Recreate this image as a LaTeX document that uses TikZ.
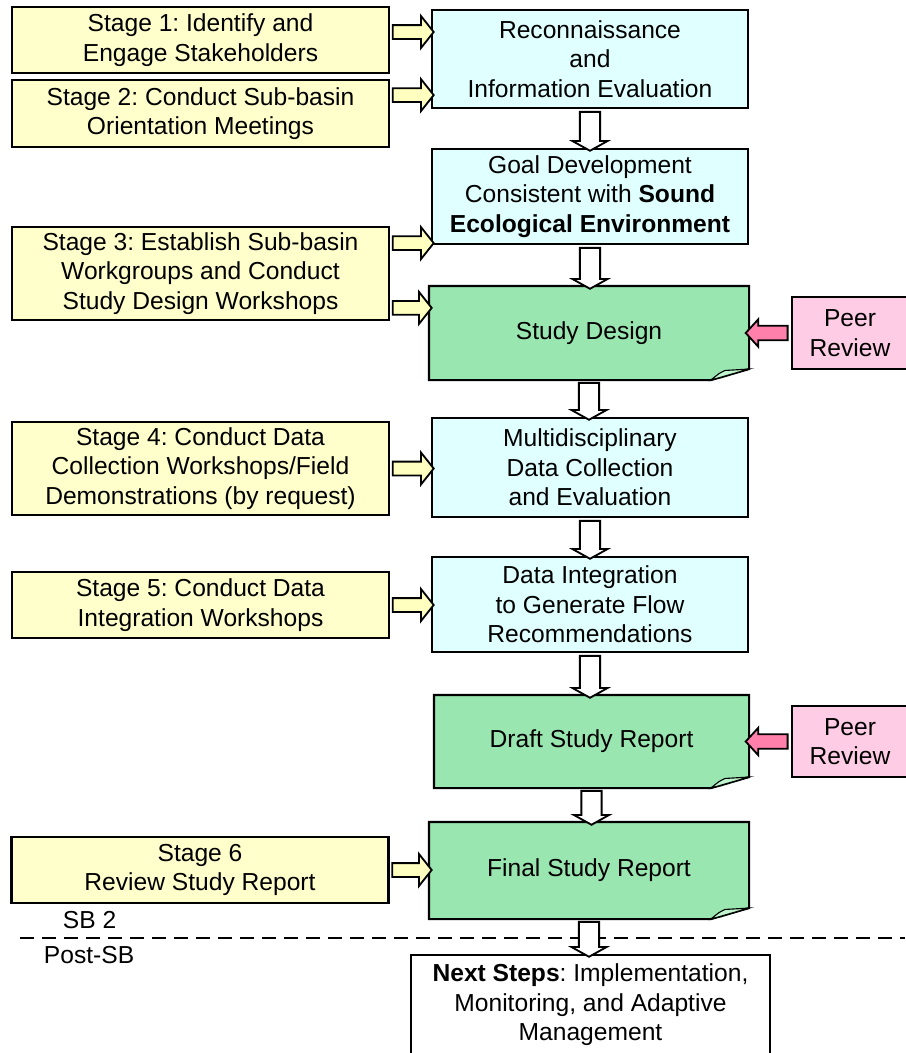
\documentclass[tikz,border=0pt]{standalone}
\usepackage{fontspec}
\setmainfont{Liberation Sans}
\frenchspacing
\usetikzlibrary{shapes.arrows,calc}
\definecolor{stagefill}{RGB}{255,255,204}
\definecolor{feedfill}{RGB}{255,255,192}
\definecolor{stepfill}{RGB}{224,255,255}
\definecolor{docfill}{RGB}{153,230,176}
\definecolor{foldfill}{RGB}{190,245,205}
\definecolor{peerfill}{RGB}{255,204,230}
\definecolor{peerpush}{RGB}{255,128,170}
\tikzset{
  box/.style={draw,line width=1.5pt,align=center,inner sep=0pt,font=\fontsize{17.5}{21}\selectfont},
  stagebox/.style={box,fill=stagefill,minimum width=9.425cm},
  stepbox/.style={box,fill=stepfill,minimum width=7.9cm},
  docbox/.style={box,draw=none,fill=docfill,minimum width=7.95cm},
  peerbox/.style={box,fill=peerfill,minimum width=2.9cm,minimum height=1.8cm},
  blockarr/.style={single arrow,draw,line width=1.3pt,inner xsep=0pt,anchor=center},
  hollow/.style={blockarr,fill=white,inner ysep=0.23cm,single arrow head extend=0.19cm,single arrow tip angle=122},
  feed/.style={blockarr,fill=feedfill,inner ysep=0.15cm,single arrow head extend=0.225cm,single arrow tip angle=103},
  review/.style={blockarr,fill=peerpush,inner ysep=0.16cm,single arrow head extend=0.16cm,single arrow tip angle=95},
}
% block arrow: style, from, to
\newcommand{\blockarrow}[3]{%
  \path let \p1=(#2), \p2=(#3), \n1={veclen(\x2-\x1,\y2-\y1)}, \n2={atan2(\y2-\y1,\x2-\x1)} in
    node[#1,minimum height=\n1,rotate=\n2] at ($(#2)!0.5!(#3)$) {};}
\begin{document}
\begin{tikzpicture}
\useasboundingbox (0,0) rectangle (22.625,-26.325);
% stages
\node[stagebox,minimum height=1.65cm](st1) at (5.0125,-1.0) {Stage 1: Identify and\\Engage Stakeholders};
\node[stagebox,minimum height=1.675cm](st2) at (5.0125,-2.8375) {Stage 2: Conduct Sub-basin\\Orientation Meetings};
\node[stagebox,minimum height=2.325cm](st3) at (5.0125,-6.8375) {Stage 3: Establish Sub-basin\\Workgroups and Conduct\\Study Design Workshops};
\node[stagebox,minimum height=2.325cm](st4) at (5.0125,-11.7125) {Stage 4: Conduct Data\\Collection Workshops/Field\\Demonstrations (by request)};
\node[stagebox,minimum height=1.65cm](st5) at (5.0125,-15.125) {Stage 5: Conduct Data\\Integration Workshops};
\node[stagebox,minimum height=1.65cm](st6) at (5.0,-21.75) {Stage 6\\Review Study Report};
% main column
\node[stepbox,minimum height=2.45cm](recon) at (14.75,-1.475) {Reconnaissance\\and\\Information Evaluation};
\node[stepbox,minimum height=2.375cm](goal) at (14.75,-4.9125) {Goal Development\\Consistent with \textbf{Sound}\\\textbf{Ecological Environment}};
\node[docbox,minimum height=2.3cm](design) at (14.725,-8.325) {Study Design};
\node[stepbox,minimum height=2.475cm](multi) at (14.75,-11.6875) {Multidisciplinary\\Data Collection\\and Evaluation};
\node[stepbox,minimum height=2.375cm](integ) at (14.75,-15.1125) {Data Integration\\to Generate Flow\\Recommendations};
\node[docbox,minimum height=2.275cm,minimum width=7.825cm](draft) at (14.7875,-18.5375) {Draft Study Report};
\node[docbox,minimum height=2.375cm](final) at (14.725,-21.7625) {Final Study Report};
\node[box,fill=white,minimum width=8.975cm,minimum height=2.5cm](next) at (14.7625,-25.125) {\textbf{Next Steps}: Implementation,\\Monitoring, and Adaptive\\Management};
\node[peerbox](peer1) at (21.25,-8.325) {Peer\\Review};
\node[peerbox,minimum height=1.775cm](peer2) at (21.25,-18.5375) {Peer\\Review};
% folded corners
\foreach \d in {design,draft,final}{
  \fill[white] ([yshift=0.275cm,xshift=0.05cm]\d.south east) -- ([xshift=0.05cm,yshift=-0.05cm]\d.south east) -- ([xshift=-0.95cm,yshift=-0.05cm]\d.south east) -- cycle;
  \draw[line width=1.5pt] (\d.north west) -- (\d.north east) -- ([yshift=0.275cm]\d.south east) -- ([xshift=-0.95cm]\d.south east) -- (\d.south west) -- cycle;
  \draw[fill=foldfill,line width=0.8pt] ([xshift=-0.95cm]\d.south east) .. controls ([xshift=-0.75cm,yshift=0.17cm]\d.south east) .. ([xshift=-0.6cm,yshift=0.24cm]\d.south east) -- ([yshift=0.275cm]\d.south east) -- cycle;
}
% phase divider
\draw[line width=1.4pt,dash pattern=on 0.35cm off 0.2cm] (0.5,-23.45) -- (22.625,-23.45);
\node[anchor=west,font=\fontsize{17.5}{21}\selectfont](sb) at (1.45,-23.0) {SB 2};
\node[anchor=west,font=\fontsize{17.5}{21}\selectfont](post) at (0.975,-23.875) {Post-SB};
% stage inputs
\coordinate (f1) at ([yshift=0.2cm]st1.east);
\coordinate (f2) at ([yshift=0.46cm]st2.east);
\coordinate (f3a) at ([yshift=0.76cm]st3.east);
\coordinate (f3b) at ([yshift=-0.86cm]st3.east);
\blockarrow{feed}{f1}{f1-|recon.west}
\blockarrow{feed}{f2}{f2-|recon.west}
\blockarrow{feed}{f3a}{f3a-|goal.west}
\blockarrow{feed}{f3b}{f3b-|design.west}
\blockarrow{feed}{st4.east}{st4.east-|multi.west}
\blockarrow{feed}{st5.east}{st5.east-|integ.west}
\blockarrow{feed}{st6.east}{st6.east-|final.west}
% peer review
\blockarrow{review}{peer1.west}{peer1.west-|design.east}
\blockarrow{review}{peer2.west}{peer2.west-|draft.east}
% main flow
\blockarrow{hollow}{recon.south}{recon.south|-goal.north}
\blockarrow{hollow}{goal.south}{goal.south|-design.north}
\blockarrow{hollow}{design.south}{design.south|-multi.north}
\blockarrow{hollow}{multi.south}{multi.south|-integ.north}
\blockarrow{hollow}{integ.south}{integ.south|-draft.north}
\blockarrow{hollow}{draft.south}{draft.south|-final.north}
\blockarrow{hollow}{final.south}{final.south|-next.north}
\end{tikzpicture}
\end{document}
